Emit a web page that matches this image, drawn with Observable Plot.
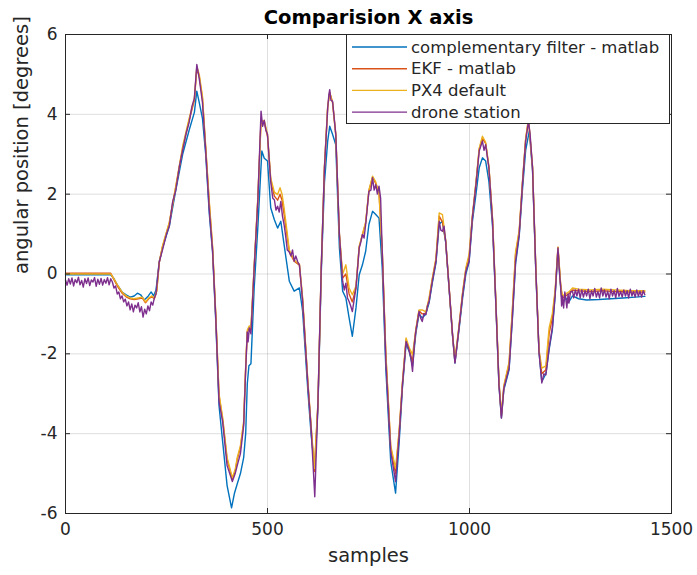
<!DOCTYPE html>
<html>
<head>
<meta charset="utf-8">
<script src="https://cdn.jsdelivr.net/npm/d3@7"></script>
<script src="https://cdn.jsdelivr.net/npm/@observablehq/plot@0.6"></script>
<style>
  html, body { margin: 0; padding: 0; background: #fff; }
  #chart { width: 697px; height: 575px; }
</style>
</head>
<body>
<div id="chart"></div>
<script>
// ---------- data ----------
const seriesNames = ["complementary filter - matlab", "EKF - matlab", "PX4 default", "drone station"];
const seriesColors = ["#0072BD", "#D95319", "#EDB120", "#7E2F8E"];
const xTicks = [0, 500, 1000, 1500];
const yTicks = [-6, -4, -2, 0, 2, 4, 6];

const cfSample = [
0,112,120,130,140,150,160,170,178,186,
195,205,212,218,224,232,240,257,273,290,
306,319,325,331,339,347,356,364,372,380,
389,400,411,418,425,433,441,446,450,454,
459,467,476,486,492,500,508,517,525,533,
541,554,566,579,587,600,608,617,625,633,
641,649,654,661,669,678,686,694,702,710,
719,727,735,743,751,760,768,776,784,793,
805,817,826,834,843,851,859,867,875,883,
892,900,908,917,925,933,941,949,958,964,
974,983,991,999,1007,1016,1024,1032,1040,1048,
1057,1065,1073,1079,1085,1098,1106,1114,1123,1131,
1139,1148,1156,1164,1172,1179,1189,1197,1205,1212,
1219,1226,1230,1238,1246,1255,1270,1290,1320,1350,
1380,1410,1434];
const cfValue = [
-0.02,-0.02,-0.12,-0.3,-0.45,-0.52,-0.58,-0.55,-0.48,-0.52,
-0.65,-0.55,-0.45,-0.55,-0.4,0.3,0.65,1.2,2.1,3.0,
3.6,4.05,4.58,4.3,3.9,3.0,1.5,0.55,-1.2,-3.3,
-4.2,-5.3,-5.86,-5.5,-5.26,-5.0,-4.6,-4.0,-2.75,-2.3,
-2.25,-0.35,1.15,3.08,2.9,2.83,1.66,1.36,1.15,1.32,
0.74,-0.18,-0.43,-0.35,-0.94,-2.94,-4.03,-4.9,-3.3,0.0,
2.3,3.33,3.7,3.5,3.24,0.65,-0.43,-0.6,-1.1,-1.56,
-0.85,-0.02,0.23,0.57,1.24,1.57,1.49,1.4,0.15,-2.4,
-4.7,-5.49,-4.2,-2.85,-1.75,-1.95,-2.3,-1.5,-1.0,-1.1,
-1.0,-0.72,-0.22,0.28,1.25,1.32,0.8,-0.3,-1.55,-2.23,
-1.4,-0.6,0.0,0.3,1.3,2.0,2.66,2.91,2.83,2.32,
1.2,-0.7,-2.8,-3.6,-2.9,-2.4,-1.15,0.25,0.95,2.1,
3.1,3.58,2.6,0.1,-1.95,-2.7,-2.5,-1.9,-1.4,-0.55,
0.6,-0.4,-0.75,-0.6,-0.7,-0.55,-0.62,-0.65,-0.64,-0.62,
-0.6,-0.58,-0.56];

const filterSample = [
0,112,120,130,140,150,160,170,180,190,
198,206,214,220,226,232,240,257,273,290,
306,319,325,331,339,347,356,364,372,380,
389,400,413,420,425,433,441,446,450,455,
459,467,476,484,492,500,508,517,525,531,
536,541,554,566,579,587,600,608,616,625,
633,641,649,654,661,669,678,686,694,702,
710,719,727,735,743,751,760,768,776,784,
793,805,817,826,834,843,851,859,867,875,
883,892,900,908,917,925,933,941,949,958,
964,974,983,991,999,1007,1016,1024,1032,1040,
1048,1057,1065,1073,1079,1085,1098,1106,1114,1123,
1131,1139,1146,1156,1164,1172,1179,1189,1197,1205,
1212,1219,1226,1230,1238,1246,1255,1270,1300,1330,
1360,1400,1434];
const ekfValue = [
0.02,0.02,-0.14,-0.33,-0.48,-0.57,-0.62,-0.64,-0.62,-0.6,
-0.72,-0.62,-0.57,-0.62,-0.42,0.28,0.68,1.28,2.18,3.15,
3.85,4.35,5.15,4.95,4.4,3.15,1.75,0.65,-1.05,-3.05,
-3.65,-4.65,-5.15,-4.95,-4.65,-4.35,-3.75,-2.35,-1.45,-1.35,
-1.4,0.15,1.85,3.85,3.8,3.45,2.35,1.95,1.85,2.0,
1.85,1.5,0.55,0.32,0.22,-0.65,-2.75,-3.85,-4.95,-3.22,
0.12,2.68,4.18,4.55,4.3,3.48,0.98,-0.1,0.0,-0.5,
-0.7,-0.35,0.68,0.98,1.28,2.08,2.42,2.27,2.05,0.58,
-2.05,-4.35,-5.0,-3.95,-2.75,-1.65,-1.9,-2.2,-1.42,-0.92,
-1.0,-0.98,-0.63,-0.13,0.37,1.45,1.3,0.83,-0.27,-1.52,
-2.2,-1.33,-0.48,0.12,0.42,1.42,2.27,3.12,3.4,3.27,
2.68,1.37,-0.63,-2.73,-3.55,-2.83,-2.25,-0.95,0.5,1.05,
2.27,3.37,3.87,2.68,0.18,-1.92,-2.5,-2.4,-1.5,-1.1,
-0.45,0.66,-0.33,-0.6,-0.55,-0.5,-0.4,-0.42,-0.44,-0.42,
-0.44,-0.45,-0.45];
const px4Value = [
0,0,-0.12,-0.3,-0.45,-0.55,-0.6,-0.62,-0.6,-0.58,
-0.7,-0.6,-0.55,-0.6,-0.4,0.3,0.7,1.3,2.2,3.2,
3.9,4.4,5.2,5.0,4.45,3.2,1.8,0.7,-1.0,-3.0,
-3.6,-4.6,-5.1,-4.9,-4.6,-4.3,-3.7,-2.3,-1.4,-1.3,
-1.35,0.2,1.9,3.8,3.85,3.5,2.4,2.05,1.99,2.16,
2.0,1.66,0.6,0.35,0.25,-0.6,-2.7,-3.8,-4.87,-3.2,
0.15,2.7,4.2,4.55,4.3,3.5,1.0,0.0,0.23,-0.35,
-0.52,-0.3,0.7,1.0,1.3,2.1,2.45,2.3,2.0,0.6,
-2.0,-4.3,-4.87,-3.9,-2.7,-1.6,-1.85,-2.02,-1.4,-0.9,
-0.9,-0.95,-0.6,-0.1,0.4,1.53,1.49,0.85,-0.25,-1.5,
-2.15,-1.3,-0.45,0.15,0.5,1.45,2.3,3.15,3.45,3.3,
2.7,1.4,-0.6,-2.7,-3.5,-2.8,-2.2,-0.9,0.55,1.1,
2.3,3.4,3.9,2.7,0.2,-1.9,-2.36,-2.3,-1.35,-1.0,
-0.4,0.68,-0.3,-0.55,-0.5,-0.45,-0.35,-0.38,-0.4,-0.38,
-0.4,-0.42,-0.42];

const dsSample = [
0,4,8,12,16,20,24,28,32,36,
40,44,48,52,56,60,64,68,72,76,
80,84,88,92,96,100,104,108,112,116,
120,124,128,132,136,140,144,148,152,156,
160,164,168,172,176,180,184,188,192,196,
200,204,208,212,216,220,224,228,
232,240,250,257,265,273,282,290,298,306,
313,319,325,331,339,347,356,364,372,380,
389,400,413,420,425,433,441,446,450,452,
455,459,467,476,484,488,492,496,500,508,
513,517,521,525,529,533,537,541,545,549,
554,558,562,566,570,575,579,587,600,608,
617,625,633,641,649,652,654,657,661,669,
678,686,690,694,698,702,706,710,719,727,
731,735,739,743,751,756,760,764,768,772,
776,780,784,793,805,817,826,834,843,847,
851,855,859,863,867,871,875,879,883,887,
892,896,900,908,917,925,929,933,937,941,
949,958,964,974,983,991,999,1007,1016,1024,
1032,1036,1040,1048,1057,1065,1073,1079,1085,1098,
1106,1114,1123,1131,1139,1146,1150,1156,1164,1172,
1179,1184,1189,1193,1197,1201,1205,1212,1219,1223,
1226,1228,1230,1233,1236,1238,1241,1244,1246,1250,
1255,1258,1262,1266,1270,1274,1278,1282,1286,1290,
1294,1298,1302,1306,1310,1314,1318,1322,1326,1330,
1334,1338,1342,1346,1350,1354,1358,1362,1366,1370,
1374,1378,1382,1386,1390,1394,1398,1402,1406,1410,
1414,1418,1422,1426,1430,1434];
const dsValue = [
-0.15,-0.28,-0.12,-0.25,-0.1,-0.3,-0.14,-0.22,-0.08,-0.27,
-0.16,-0.33,-0.12,-0.24,-0.1,-0.29,-0.15,-0.2,-0.09,-0.31,
-0.13,-0.26,-0.11,-0.28,-0.14,-0.23,-0.09,-0.27,-0.12,-0.2,
-0.35,-0.3,-0.5,-0.45,-0.62,-0.55,-0.7,-0.63,-0.8,-0.7,
-0.9,-0.75,-0.95,-0.78,-0.85,-0.72,-0.95,-0.82,-1.08,-0.88,
-1.0,-0.8,-0.92,-0.7,-0.78,-0.6,-0.5,-0.1,
0.3,0.6,1.0,1.2,1.8,2.1,2.7,3.1,3.5,3.8,
4.2,4.4,5.25,4.9,4.3,3.1,1.6,0.6,-1.1,-3.2,
-3.7,-4.8,-5.2,-5.0,-4.8,-4.5,-3.8,-2.4,-1.45,-1.7,
-1.35,-1.5,0.15,1.82,4.08,3.7,3.85,3.6,3.5,2.3,
1.9,1.86,1.6,1.7,1.55,1.82,1.45,1.24,0.95,0.6,
0.55,0.45,0.6,0.32,0.45,0.3,0.23,-0.69,-2.78,-3.86,
-5.58,-3.19,0.15,2.66,4.16,4.5,4.62,4.35,4.33,3.5,
0.99,-0.18,-0.4,-0.23,-0.6,-0.69,-0.8,-0.94,-0.35,0.65,
0.8,0.99,0.9,1.24,2.07,2.1,2.41,2.1,2.24,2.0,
2.2,1.9,0.57,-2.2,-4.45,-5.2,-4.03,-2.78,-1.69,-1.8,
-1.94,-2.1,-2.44,-1.8,-1.44,-1.2,-0.94,-1.1,-1.19,-1.0,
-1.02,-0.8,-0.69,-0.18,0.32,1.32,1.1,1.07,1.2,0.82,
-0.27,-1.52,-2.23,-1.35,-0.52,0.07,0.32,1.4,2.24,3.08,
3.33,3.1,3.24,2.66,1.32,-0.69,-2.78,-3.61,-2.86,-2.36,
-1.1,0.32,0.99,2.24,3.33,3.83,3.5,2.66,0.15,-1.94,
-2.73,-2.5,-2.53,-2.2,-1.86,-1.6,-1.35,-0.52,0.65,0.0,
-0.35,-0.8,-0.55,-0.85,-0.45,-0.6,-0.85,-0.5,-0.73,-0.45,
-0.43,-0.6,-0.4,-0.55,-0.38,-0.6,-0.4,-0.58,-0.42,-0.55,
-0.38,-0.62,-0.42,-0.55,-0.36,-0.58,-0.44,-0.6,-0.35,-0.55,
-0.4,-0.58,-0.43,-0.62,-0.38,-0.55,-0.42,-0.6,-0.36,-0.56,
-0.44,-0.58,-0.4,-0.55,-0.42,-0.6,-0.38,-0.55,-0.44,-0.58,
-0.4,-0.56,-0.43,-0.58,-0.42,-0.52];

// ---------- build table ----------
function rows(xs, ys, name) {
  const n = Math.min(xs.length, ys.length);
  const out = [];
  for (let i = 0; i < n; i++) out.push({sample: xs[i], value: ys[i], series: name});
  return out;
}
const cfRows = rows(cfSample, cfValue, seriesNames[0]);
const ekfRows = rows(filterSample, ekfValue, seriesNames[1]);
const px4Rows = rows(filterSample, px4Value, seriesNames[2]);
const dsRows = rows(dsSample, dsValue, seriesNames[3]);

const axisColor = "#262626";
const font = "DejaVu Sans";
const W = 697, H = 575;
const mL = 65, mR = 26, mT = 34, mB = 62;
const frameW = W - mL - mR, frameH = H - mT - mB;
const tickLen = 5;

const lineOpts = (color) => ({x: "sample", y: "value", stroke: color, strokeWidth: 1.4, curve: "linear"});

const svg = Plot.plot({
  width: W, height: H,
  marginLeft: mL, marginRight: mR, marginTop: mT, marginBottom: mB,
  style: {fontFamily: font, background: "#fff", color: axisColor, overflow: "visible"},
  x: {domain: [0, 1500]},
  y: {domain: [-6, 6]},
  marks: [
    Plot.gridX(xTicks, {stroke: axisColor, strokeOpacity: 0.15, strokeWidth: 1}),
    Plot.gridY(yTicks, {stroke: axisColor, strokeOpacity: 0.15, strokeWidth: 1}),
    Plot.line(cfRows, lineOpts(seriesColors[0])),
    Plot.line(ekfRows, lineOpts(seriesColors[1])),
    Plot.line(px4Rows, lineOpts(seriesColors[2])),
    Plot.line(dsRows, lineOpts(seriesColors[3])),
    // inward ticks on all four sides
    Plot.ruleX(xTicks, {x: d => d, stroke: axisColor, insetTop: frameH - tickLen}),
    Plot.ruleX(xTicks, {x: d => d, stroke: axisColor, insetBottom: frameH - tickLen}),
    Plot.ruleY(yTicks, {y: d => d, stroke: axisColor, insetRight: frameW - tickLen}),
    Plot.ruleY(yTicks, {y: d => d, stroke: axisColor, insetLeft: frameW - tickLen}),
    Plot.frame({stroke: axisColor, strokeWidth: 1}),
    Plot.axisX({ticks: xTicks, tickSize: 0, tickPadding: 9, fontSize: 17, label: null, tickFormat: d => String(d), fill: axisColor}),
    Plot.axisY({ticks: yTicks, tickSize: 0, tickPadding: 8, fontSize: 17, label: null, tickFormat: d => String(d), fill: axisColor}),
    Plot.text(["samples"], {frameAnchor: "bottom", dy: 42, fontSize: 19.5, fill: axisColor, lineAnchor: "middle"}),
    Plot.text(["angular position [degrees]"], {frameAnchor: "left", dx: -44, rotate: -90, fontSize: 19.5, fill: axisColor, lineAnchor: "middle"}),
    Plot.text(["Comparision X axis"], {frameAnchor: "top", dy: -17, fontSize: 19.5, fontWeight: "bold", fill: "#000", lineAnchor: "middle"})
  ]
});

// ---------- legend (inside the axes, top right) ----------
const lg = d3.select(svg).append("g").attr("font-family", font).attr("font-size", 16.5)
  .attr("text-anchor", "start");
const lgX = 346, lgY = mT, lgW = W - mR - 2 - 346, lgH = 89;
lg.append("rect").attr("x", lgX + 0.5).attr("y", lgY + 0.5).attr("width", lgW).attr("height", lgH)
  .attr("fill", "#fff").attr("stroke", axisColor).attr("stroke-width", 1);
seriesNames.forEach((name, i) => {
  const cy = lgY + 13 + i * 21.7;
  lg.append("line").attr("x1", lgX + 6).attr("x2", lgX + 61).attr("y1", cy).attr("y2", cy)
    .attr("stroke", seriesColors[i]).attr("stroke-width", 1.4);
  lg.append("text").attr("x", lgX + 65).attr("y", cy).attr("dy", "0.35em")
    .attr("text-anchor", "start").attr("fill", axisColor).text(name);
});

document.getElementById("chart").appendChild(svg);
</script>
</body>
</html>
